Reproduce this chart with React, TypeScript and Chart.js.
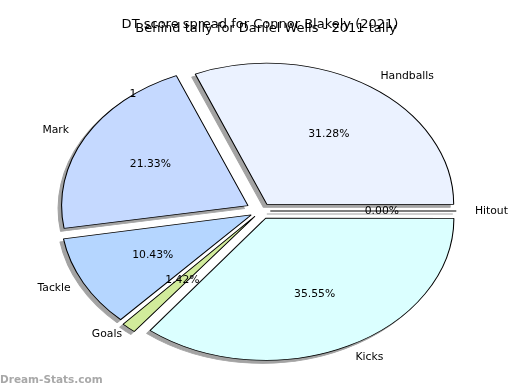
import React, { useEffect, useRef } from "react";
import { Chart, registerables } from "chart.js";

Chart.register(...registerables);

// Data in matplotlib order (counter-clockwise from 3 o'clock)
const labels = ["Handballs", "Mark", "Tackle", "Goals", "Kicks", "Hitout"];
const values = [31.28, 21.33, 10.43, 1.42, 35.55, 0.0];
const colors = ["#ebf2ff", "#c5d9ff", "#b5d6ff", "#d1eb9b", "#dbffff", "#e4ecff"];
const explode = [0.057, 0.08, 0.06, 0.05, 0.057, 0.05];
const titles = [
  "DT score spread for Connor Blakely (2021)",
  "Behind tally for Daniel Wells - 2011 tally",
];
const strayLabel = "1";
const watermark = "Dream-Stats.com";

const RADIUS = 140.5;
const SX = 186 / 140.5;
const FONT = "DejaVu Sans, sans-serif";
const SHADOW = "#a3a3a3";

const ellipsePlugin = {
  id: "ellipsePie",
  beforeDatasetsDraw(chart: any) {
    const ctx = chart.ctx;
    const meta = chart.getDatasetMeta(0);
    const a0 = meta.data[0];
    const cx = a0.x, cy = a0.y;
    // shadow pass
    ctx.save();
    ctx.translate(-3.5, 3);
    ctx.translate(cx, cy);
    ctx.scale(SX, 1);
    ctx.translate(-cx, -cy);
    meta.data.forEach((arc: any) => {
      const fake = Object.create(arc);
      fake.options = { ...arc.options, backgroundColor: SHADOW, borderColor: SHADOW };
      if (arc.circumference > 0) {
        fake.draw(ctx);
      } else {
        const off = (arc.options.offset || 0) / 4;
        const a = arc.startAngle;
        const ex = arc.x + Math.cos(a) * off, ey = arc.y + Math.sin(a) * off;
        ctx.strokeStyle = SHADOW;
        ctx.lineWidth = 1;
        ctx.beginPath();
        ctx.moveTo(ex, ey);
        ctx.lineTo(ex + Math.cos(a) * arc.outerRadius, ey + Math.sin(a) * arc.outerRadius);
        ctx.stroke();
      }
    });
    ctx.restore();
    // main pass transform
    ctx.save();
    ctx.translate(cx, cy);
    ctx.scale(SX, 1);
    ctx.translate(-cx, -cy);
  },
  afterDatasetsDraw(chart: any) {
    const ctx = chart.ctx;
    const meta = chart.getDatasetMeta(0);
    // zero-width wedges drawn as lines
    meta.data.forEach((arc: any) => {
      if (arc.circumference > 0) return;
      const off = (arc.options.offset || 0) / 4;
      const a = arc.startAngle;
      const ex = arc.x + Math.cos(a) * off, ey = arc.y + Math.sin(a) * off;
      ctx.strokeStyle = "#000";
      ctx.lineWidth = 1;
      ctx.beginPath();
      ctx.moveTo(ex, ey);
      ctx.lineTo(ex + Math.cos(a) * arc.outerRadius, ey + Math.sin(a) * arc.outerRadius);
      ctx.stroke();
    });
    ctx.restore();

    // labels
    const lbls = chart.data.labels;
    const vals = chart.data.datasets[0].data;
    const total = vals.reduce((s: number, v: number) => s + v, 0);
    ctx.save();
    ctx.fillStyle = "#000";
    ctx.textBaseline = "middle";
    ctx.font = `10.8px ${FONT}`;
    meta.data.forEach((arc: any, i: number) => {
      const off = (arc.options.offset || 0) / 4;
      const mid = (arc.startAngle + arc.endAngle) / 2;
      const R = arc.outerRadius;
      const px = (d: number) => arc.x + Math.cos(mid) * (d * R + off) * SX;
      const py = (d: number) => arc.y + Math.sin(mid) * (d * R + off);
      ctx.textAlign = Math.cos(mid) > 0 ? "left" : "right";
      ctx.fillText(lbls[i], px(1.1), py(1.1));
      ctx.textAlign = "center";
      ctx.fillText(((vals[i] / total) * 100).toFixed(2) + "%", px(0.6), py(0.6));
    });
    // stray label
    ctx.textAlign = "center";
    ctx.fillText(strayLabel, 133, 94);
    // titles
    ctx.font = `13px ${FONT}`;
    ctx.fillText(titles[0], 260, 25);
    ctx.fillText(titles[1], 266, 29);
    // watermark
    ctx.font = `bold 10.5px ${FONT}`;
    ctx.fillStyle = "#a8a8a8";
    ctx.textAlign = "left";
    ctx.fillText(watermark, 0, 380);
    ctx.restore();
  },
};

export default function App() {
  const ref = useRef<HTMLCanvasElement>(null);
  useEffect(() => {
    document.body.style.margin = "0";
    const order = labels.map((_, i) => labels.length - 1 - i); // clockwise order
    const chart = new Chart(ref.current!, {
      type: "pie",
      data: {
        labels: order.map((i) => labels[i]),
        datasets: [
          {
            data: order.map((i) => values[i]),
            backgroundColor: order.map((i) => colors[i]),
            borderColor: "#000",
            borderWidth: 0.8,
            offset: order.map((i) => explode[i] * RADIUS * 4),
            hoverOffset: 0,
            clip: false as any,
          },
        ],
      },
      options: {
        responsive: false,
        animation: false,
        rotation: 90,
        radius: RADIUS,
        layout: { padding: { left: 2, right: 0, top: 32, bottom: 0 } },
        plugins: {
          legend: { display: false },
          tooltip: { enabled: false },
          title: { display: false },
        },
        events: [],
      } as any,
      plugins: [ellipsePlugin],
    });
    return () => chart.destroy();
  }, []);
  return (
    <div style={{ position: "absolute", left: 0, top: 0, width: 520, height: 390, background: "#fff" }}>
      <canvas ref={ref} width={520} height={390} />
    </div>
  );
}
